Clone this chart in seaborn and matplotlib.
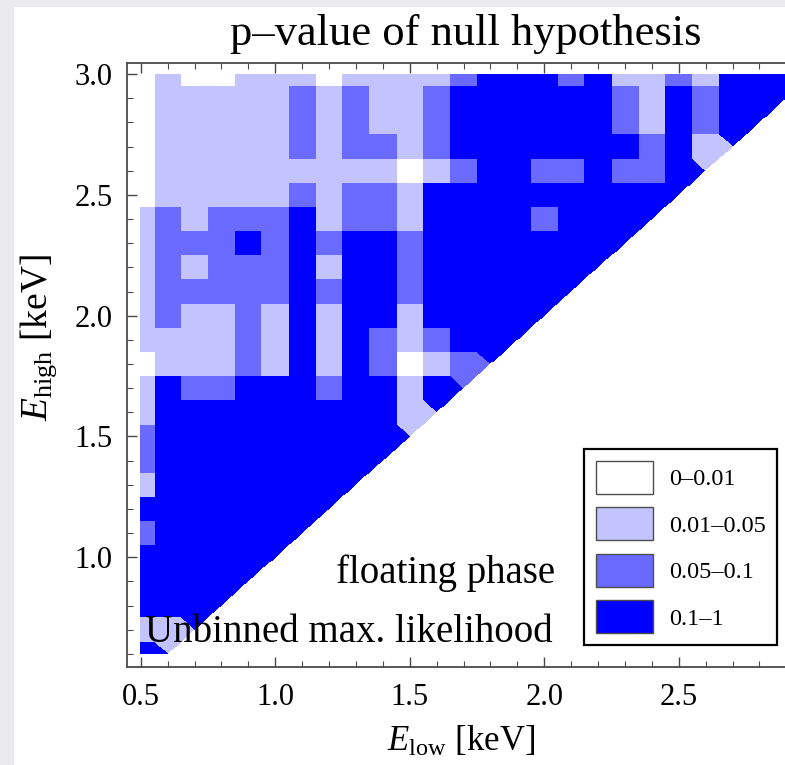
import numpy as np
import matplotlib
matplotlib.use("Agg")
import matplotlib.pyplot as plt
import seaborn as sns
from matplotlib.colors import ListedColormap
from matplotlib.patches import Patch, Rectangle
from matplotlib.ticker import FixedLocator

# ---------------- data ----------------
e_low_keV = [0.5, 0.6, 0.7, 0.8, 0.9, 1.0, 1.1, 1.2, 1.3, 1.4, 1.5, 1.6, 1.7,
             1.8, 1.9, 2.0, 2.1, 2.2, 2.3, 2.4, 2.5, 2.6, 2.7, 2.8, 2.9]
e_high_keV = [0.6, 0.7, 0.8, 0.9, 1.0, 1.1, 1.2, 1.3, 1.4, 1.5, 1.6, 1.7, 1.8,
              1.9, 2.0, 2.1, 2.2, 2.3, 2.4, 2.5, 2.6, 2.7, 2.8, 2.9, 3.0]

p_bins = ["0\u20130.01", "0.01\u20130.05", "0.05\u20130.1", "0.1\u20131"]
p_colors = ["#FFFFFF", "#C3C3FF", "#6A6AFF", "#0000FF"]

# p-value class (index into p_bins) for each E_low, one list per E_high
p_class_Ehigh_060 = [3]
p_class_Ehigh_070 = [1, 1]
p_class_Ehigh_080 = [3, 3, 3]
p_class_Ehigh_090 = [3, 3, 3, 3]
p_class_Ehigh_100 = [3, 3, 3, 3, 3]
p_class_Ehigh_110 = [2, 3, 3, 3, 3, 3]
p_class_Ehigh_120 = [3, 3, 3, 3, 3, 3, 3]
p_class_Ehigh_130 = [1, 3, 3, 3, 3, 3, 3, 3]
p_class_Ehigh_140 = [2, 3, 3, 3, 3, 3, 3, 3, 3]
p_class_Ehigh_150 = [2, 3, 3, 3, 3, 3, 3, 3, 3, 3]
p_class_Ehigh_160 = [1, 3, 3, 3, 3, 3, 3, 3, 3, 3, 1]
p_class_Ehigh_170 = [1, 3, 2, 2, 3, 3, 3, 2, 3, 3, 1, 3]
p_class_Ehigh_180 = [0, 1, 1, 1, 2, 1, 3, 1, 3, 2, 0, 1, 2]
p_class_Ehigh_190 = [1, 1, 1, 1, 2, 1, 3, 1, 3, 2, 1, 2, 3, 3]
p_class_Ehigh_200 = [1, 2, 1, 1, 2, 1, 3, 1, 3, 3, 1, 3, 3, 3, 3]
p_class_Ehigh_210 = [1, 2, 2, 2, 2, 2, 3, 2, 3, 3, 2, 3, 3, 3, 3, 3]
p_class_Ehigh_220 = [1, 2, 1, 2, 2, 2, 3, 1, 3, 3, 2, 3, 3, 3, 3, 3, 3]
p_class_Ehigh_230 = [1, 2, 2, 2, 3, 2, 3, 2, 3, 3, 2, 3, 3, 3, 3, 3, 3, 3]
p_class_Ehigh_240 = [1, 2, 1, 2, 2, 2, 3, 1, 2, 2, 1, 3, 3, 3, 3, 2, 3, 3, 3]
p_class_Ehigh_250 = [0, 1, 1, 1, 1, 1, 2, 1, 2, 2, 1, 3, 3, 3, 3, 3, 3, 3, 3, 3]
p_class_Ehigh_260 = [0, 1, 1, 1, 1, 1, 1, 1, 1, 1, 0, 1, 2, 3, 3, 2, 2, 3, 2, 2, 3]
p_class_Ehigh_270 = [0, 1, 1, 1, 1, 1, 2, 1, 2, 2, 1, 2, 3, 3, 3, 3, 3, 3, 3, 2, 3, 1]
p_class_Ehigh_280 = [0, 1, 1, 1, 1, 1, 2, 1, 2, 1, 1, 2, 3, 3, 3, 3, 3, 3, 2, 1, 3, 2, 3]
p_class_Ehigh_290 = [0, 1, 1, 1, 1, 1, 2, 1, 2, 1, 1, 2, 3, 3, 3, 3, 3, 3, 2, 1, 3, 2, 3, 3]
p_class_Ehigh_300 = [0, 1, 0, 0, 1, 1, 1, 0, 1, 1, 1, 1, 2, 3, 3, 3, 2, 3, 1, 1, 2, 1, 3, 3, 3]

rows = [p_class_Ehigh_060, p_class_Ehigh_070, p_class_Ehigh_080, p_class_Ehigh_090,
        p_class_Ehigh_100, p_class_Ehigh_110, p_class_Ehigh_120, p_class_Ehigh_130,
        p_class_Ehigh_140, p_class_Ehigh_150, p_class_Ehigh_160, p_class_Ehigh_170,
        p_class_Ehigh_180, p_class_Ehigh_190, p_class_Ehigh_200, p_class_Ehigh_210,
        p_class_Ehigh_220, p_class_Ehigh_230, p_class_Ehigh_240, p_class_Ehigh_250,
        p_class_Ehigh_260, p_class_Ehigh_270, p_class_Ehigh_280, p_class_Ehigh_290,
        p_class_Ehigh_300]

x_major = [0.5, 1.0, 1.5, 2.0, 2.5]
y_major = [1.0, 1.5, 2.0, 2.5, 3.0]

# ---------------- style ----------------
sns.set_theme(style="ticks")
plt.rcParams["font.family"] = ["Liberation Serif", "DejaVu Serif"]
plt.rcParams["mathtext.fontset"] = "custom"
plt.rcParams["mathtext.rm"] = "Liberation Serif"
plt.rcParams["mathtext.it"] = "Liberation Serif:italic"
plt.rcParams["mathtext.bf"] = "Liberation Serif:bold"
plt.rcParams["text.color"] = "black"
plt.rcParams["axes.labelcolor"] = "black"
plt.rcParams["xtick.labelcolor"] = "black"
plt.rcParams["ytick.labelcolor"] = "black"

# ---------------- nearest-point raster of the scattered grid ----------------
px, py, pc = [], [], []
for eh, row in zip(e_high_keV, rows):
    for el, c in zip(e_low_keV, row):
        px.append(el)
        py.append(eh)
        pc.append(c)
px = np.array(px)
py = np.array(py)
pc = np.array(pc)

X0, X1 = 0.45, 3.0
Y0, Y1 = 0.5447, 3.047
nx, ny = 680, 640
xc = X0 + (np.arange(nx) + 0.5) * (X1 - X0) / nx
yc = Y1 - (np.arange(ny) + 0.5) * (Y1 - Y0) / ny
grid = np.zeros((ny, nx))
for r in range(ny):
    d = (xc[:, None] - px[None, :]) ** 2 + (yc[r] - py[None, :]) ** 2
    grid[r] = pc[np.argmin(d, axis=1)]
XX, YY = np.meshgrid(xc, yc)
inside = (XX >= min(e_low_keV)) & (YY >= min(e_high_keV)) & (YY <= max(e_high_keV)) & (YY >= XX)
mask = ~inside


def fx(v):
    return (v - X0) / (X1 - X0) * nx


def fy(v):
    return (Y1 - v) / (Y1 - Y0) * ny


# ---------------- figure ----------------
W, H = 785, 765
fig = plt.figure(figsize=(W / 100, H / 100), dpi=100)
fig.patch.set_facecolor("#EBEBEE")
fig.patches.append(Rectangle((14 / W, 0), 1 - 14 / W, 1 - 7 / H, transform=fig.transFigure,
                             facecolor="white", edgecolor="none", zorder=-5))

ax = fig.add_axes([127.3 / W, (H - 667.3) / H, 686 / W, 604.6 / H])
ax.set_zorder(2)
sns.heatmap(grid, mask=mask, cmap=ListedColormap(p_colors), vmin=-0.5, vmax=3.5,
            cbar=False, xticklabels=False, yticklabels=False, ax=ax)
ax.set_facecolor("white")

for s in ax.spines.values():
    s.set_visible(True)
    s.set_color("#4a4a4a")
    s.set_linewidth(1.3)

x_minor = [v / 10 for v in range(5, 31)]
y_minor = [v / 10 for v in range(6, 31)]
ax.xaxis.set_major_locator(FixedLocator([fx(v) for v in x_major]))
ax.xaxis.set_minor_locator(FixedLocator([fx(v) for v in x_minor]))
ax.yaxis.set_major_locator(FixedLocator([fy(v) for v in y_major]))
ax.yaxis.set_minor_locator(FixedLocator([fy(v) for v in y_minor]))
ax.set_xticklabels([f"{v:.1f}" for v in x_major], rotation=0)
ax.set_yticklabels([f"{v:.1f}" for v in y_major], rotation=0)
ax.tick_params(which="both", direction="in", top=True, right=True, bottom=True, left=True,
               color="#4a4a4a", labelcolor="black")
ax.tick_params(which="major", length=7, width=1.0, labelsize=22)
ax.tick_params(which="minor", length=4, width=0.8)
ax.tick_params(axis="x", which="major", pad=11.5)
ax.tick_params(axis="y", which="major", pad=10.5)

ax.set_xlabel(r"$E_{\mathrm{low}}$ [keV]", fontsize=25, color="black")
ax.xaxis.set_label_coords(0.486, -0.095)
ax.set_ylabel(r"$E_{\mathrm{high}}$ [keV]", fontsize=27, color="black")
ax.yaxis.set_label_coords(-0.100, 0.5447)

fig.text(466 / W, 1 - 34 / H, "p\u2013value of null hypothesis", ha="center", va="center",
         fontsize=32, color="black")
fig.text(445.5 / W, 1 - 583 / H, "floating phase", ha="center", va="baseline", fontsize=28,
         color="black", zorder=5)
fig.text(349 / W, 1 - 642 / H, "Unbinned max. likelihood", ha="center", va="baseline",
         fontsize=28, color="black", zorder=5)

handles = [Patch(facecolor=c, edgecolor="#4d4d4d", linewidth=1.0) for c in p_colors]
leg = fig.legend(handles, p_bins, loc="upper left", bbox_to_anchor=(584 / W, 1 - 449 / H),
                 bbox_transform=fig.transFigure, frameon=True, fancybox=False, fontsize=17.5,
                 handlelength=2.35, handleheight=1.71, labelspacing=0.56, borderpad=0.48,
                 handletextpad=0.66, borderaxespad=0)
leg.set_zorder(6)
for t in leg.get_texts():
    t.set_color("black")
frame = leg.get_frame()
frame.set_edgecolor("black")
frame.set_linewidth(1.6)
frame.set_facecolor("white")
frame.set_alpha(1)

fig.savefig("out.png", dpi=100, facecolor=fig.get_facecolor())
